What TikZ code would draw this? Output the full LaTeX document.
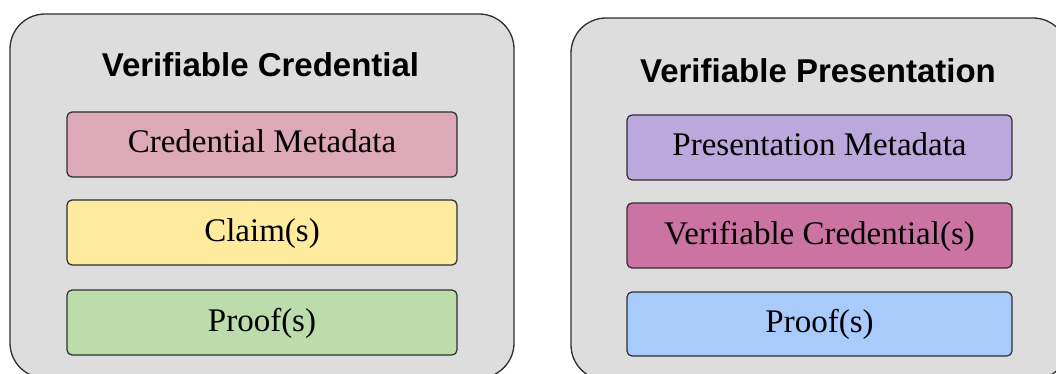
\documentclass[tikz,border=0pt]{standalone}
\usepackage{fontspec}
\setmainfont{Liberation Serif}
\newfontfamily\headfont{Liberation Sans}
\definecolor{panelgray}{HTML}{DDDDDD}
\definecolor{edgegray}{HTML}{2E2E2E}
\definecolor{metapink}{HTML}{DDA8B8}
\definecolor{claimyellow}{HTML}{FFEB9E}
\definecolor{proofgreen}{HTML}{BCDCAB}
\definecolor{metapurple}{HTML}{BBA8DC}
\definecolor{vcmagenta}{HTML}{CB74A3}
\definecolor{proofblue}{HTML}{A9CBFB}
\tikzset{
  panel/.style={draw=edgegray, line width=1.3pt, fill=panelgray, rounded corners=35pt},
  part/.style={draw=edgegray, line width=1.2pt, rounded corners=5pt, inner sep=0pt,
    font=\fontsize{33}{36}\selectfont, text height=23pt, text depth=6pt},
  heading/.style={font=\headfont\bfseries\fontsize{33}{38}\selectfont, anchor=base}
}
\begin{document}
\begin{tikzpicture}[x=1pt, y=-1pt]
\useasboundingbox (0,0) rectangle (1056,374);
\clip (0,0) rectangle (1056,374);

% two panels
\draw[panel] (10,14) rectangle (514,378);
\draw[panel] (571,18) rectangle (1068,380);

% left panel: the credential
\node[heading] (vctitle) at (260.5,77) {Verifiable Credential};
\node[part, fill=metapink, minimum width=390pt, minimum height=65pt] (cmeta) at (262,144.5) {Credential Metadata};
\node[part, fill=claimyellow, minimum width=390pt, minimum height=65pt] (claims) at (262,232.5) {Claim(s)};
\node[part, fill=proofgreen, minimum width=390pt, minimum height=65pt] (cproof) at (262,322.5) {Proof(s)};

% right panel: the presentation
\node[heading] (vptitle) at (818,83) {Verifiable Presentation};
\node[part, fill=metapurple, minimum width=385pt, minimum height=65pt] (pmeta) at (819.5,147.5) {Presentation Metadata};
\node[part, fill=vcmagenta, minimum width=385pt, minimum height=65pt] (pvc) at (819.5,235.5) {Verifiable Credential(s)};
\node[part, fill=proofblue, minimum width=385pt, minimum height=64pt] (pproof) at (819.5,324) {Proof(s)};
\end{tikzpicture}
\end{document}
